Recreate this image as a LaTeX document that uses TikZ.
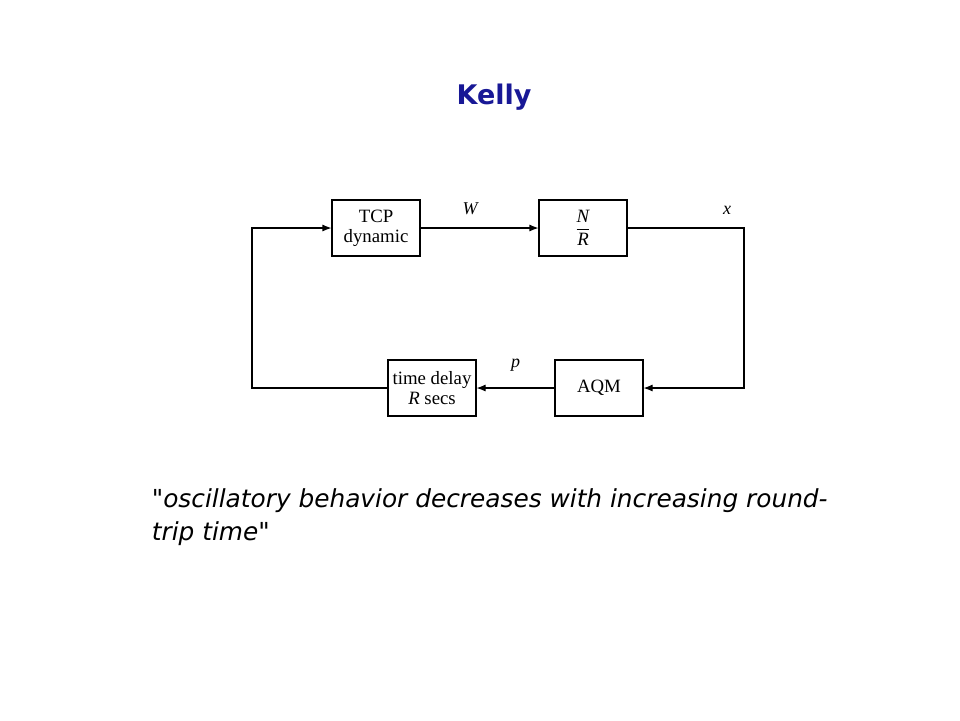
\documentclass[tikz,border=0pt]{standalone}
\usepackage{amsmath}
\usepackage{fontspec}
\setmainfont{Liberation Serif}
\newfontfamily\titlefont{DejaVu Sans}
\newfontfamily\quotefont{DejaVu Sans}
\usepackage{tikz}
\usetikzlibrary{arrows.meta}
\definecolor{kellyblue}{RGB}{24,24,150}

\begin{document}
\begin{tikzpicture}[x=1pt,y=-1pt,line width=1.1pt,>={Latex[length=9pt,width=7pt]},
        block/.style={draw,minimum width=88pt,minimum height=56pt,inner sep=0pt,align=center,font=\fontsize{18.8}{20}\selectfont},
        lab/.style={inner sep=0pt,text depth=0pt,font=\fontsize{18}{20}\selectfont\itshape}]
        \useasboundingbox (0,0) rectangle (960,720);
        \node[anchor=base,text=kellyblue,font=\titlefont\bfseries\fontsize{27}{30}\selectfont] (title) at (494,104) {Kelly};
        \node[block] (tcp) at (376,228) {TCP\\dynamic};
        \node[block] (nr) at (583,228) {$\dfrac{\textit{N}}{\textit{R}}$};
        \node[block] (delay) at (432,388) {time delay\\\textit{R} secs};
        \node[block] (aqm) at (599,388) {AQM};
        \coordinate (right) at (744,228);
        \coordinate (left) at (252,228);
        \draw[->] (tcp) -- node[lab,above=13pt,pos=0.42] {W} (nr);
        \draw[->] (nr) -- node[lab,above=13pt,pos=0.855] {x} (right) |- (aqm);
        \draw[->] (aqm) -- node[lab,above=20pt] {p} (delay);
        \draw[->] (delay) -| (left) -- (tcp);
        % base anchor sits on the last line
        \node[anchor=base west,align=left,font=\quotefont\itshape\fontsize{24.8}{33}\selectfont] (quote) at (148,540) {"oscillatory behavior decreases with increasing round-\\trip time"};
    \end{tikzpicture}
\end{document}
